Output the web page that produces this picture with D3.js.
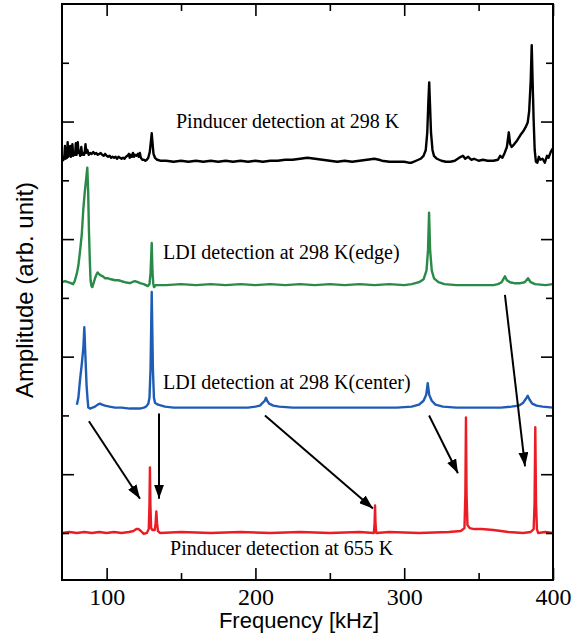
<!DOCTYPE html>
<html><head><meta charset="utf-8">
<script src="https://cdn.jsdelivr.net/npm/d3@7"></script>
<style>body{margin:0;background:#fff}</style>
</head><body><svg id="c" width="582" height="639"></svg>
<script>
const freqTicksMajor=[100,200,300,400];
const freqTicksMinor=[150,250,350];
const ampTicksLong=[60,180,300,420];
const ampTicksShort=[0,120,240,360,480];

// [frequency kHz, relative amplitude]
const pinducer298=[[70,0],[70.5,3],[71,2],[71.6,6],[72,16],[72.4,3],[73,5],[73.4,4],[73.8,20],[74.2,5],[74.7,7],[75.5,16],[76,5],[76.5,8],[77,18],[77.5,6],[78.2,9],[78.8,7],[79.3,19],[79.8,7],[80.2,10],[80.6,20],[81.1,9],[81.6,11],[82.2,6],[83,15],[83.5,7],[84.1,9],[84.8,7],[85.3,10],[85.8,18],[86.3,9],[87,12],[88,7],[89,9],[90,8],[91,10],[92,8],[93,9],[94,7],[95,8],[96,9],[97,7],[98,6],[99,8],[100,6],[101,5],[102,6],[103,4],[104,5],[105,4],[106,5],[107,3],[108,5],[109,4],[110,3],[111,4],[112,3],[113,5],[114,6],[115,8],[115.5,4],[116.3,7],[117,5],[117.7,9],[118.4,5],[119,7],[120,6],[121,8],[121.6,5],[122.3,9],[123,4],[124,2],[125,2],[126,1],[127,2],[128,4],[129,10],[129.7,20],[130.3,29],[130.9,18],[131.5,8],[132.5,4],[134,2],[136,1],[140,1],[145,0],[150,1],[155,0],[160,1],[165,0],[170,1],[175,0],[180,1],[185,0],[190,1],[195,0],[200,1],[205,0],[210,1],[215,1],[220,2],[225,2],[230,3],[235,4],[240,3],[245,2],[250,1],[255,0],[260,1],[265,0],[270,1],[275,2],[280,3],[283,2],[285,1],[290,0],[295,0],[300,0],[303,-1],[305,-1],[308,1],[311,3],[313,6],[314.5,12],[315.5,30],[316.2,60],[316.8,81],[317.3,60],[318,30],[319,12],[320,6],[322,3],[325,1],[328,0],[331,0],[334,1],[336,3],[338,5],[339.5,6],[341,3],[343,5],[345,2],[347,3],[350,1],[353,2],[356,1],[360,1],[363,2],[364.5,6],[366,4],[367.5,9],[369,15],[370.3,30],[371.2,18],[372.2,15],[374,18],[376,22],[378,27],[380,31],[381.5,35],[383,40],[384,52],[385,82],[385.7,119],[386.3,82],[387,42],[387.7,12],[388.5,0],[389.5,-1],[390.5,5],[391.5,2],[393,3],[394.5,-1],[396,6],[397,4],[398.5,10],[400,14]];

const ldiEdge=[[70,3],[72,4],[74,3],[76,2],[77.4,1],[78.5,4],[80,12],[81,20],[82,33],[83.3,52],[84.3,77],[85.3,95],[86.2,108],[87,120],[87.6,95],[88.1,56],[88.7,25],[89.2,5],[89.8,-1],[90.4,-2],[91.2,2],[92.2,7],[93.2,11],[94,13],[95,11],[96,10],[97.5,9],[99,7],[101,7],[103,6],[105.6,5],[108,5],[110,4],[112.3,3],[115.7,2],[117,3],[119,4],[121,3],[122.4,2],[125,1],[127.6,-1],[128.8,1],[129.5,12],[130.3,43],[130.8,14],[131.3,2],[131.8,-2],[133,0],[140,0],[150,1],[160,0],[170,1],[180,0],[190,1],[200,0],[210,1],[220,0],[230,1],[240,0],[250,1],[260,0],[270,1],[280,0],[290,1],[300,0],[305,1],[310,3],[313,6],[315,15],[316,36],[316.7,74],[317.4,36],[318.5,15],[320,7],[323,3],[327,1],[335,0],[345,0],[355,0],[360,0],[363,1],[365.5,3],[367.7,9],[369,5],[371,3],[374,2],[378,2],[381,3],[383.2,7],[385,3],[388,1],[395,0],[400,1]];

const ldiCenter=[[80,3],[81,10],[82.1,28],[83.4,46],[84.4,62],[85,82],[85.7,54],[86.5,23],[87.2,8],[87.7,0],[88.8,-1],[90.5,0],[92.2,1],[94,3],[95.5,4],[97,3],[98.9,2],[102,1],[105.6,0],[110,0],[115.7,-1],[122.4,-1],[125,0],[126.5,1],[128,4],[128.8,10],[129.5,39],[130.3,118],[131.1,39],[131.8,10],[132.5,5],[134.5,3],[139.2,1],[145,0],[160,0],[180,0],[195,0],[200,1],[203,2],[205,5],[206.3,7],[207.1,10],[207.9,7],[209.2,4],[212,2],[216,1],[225,0],[250,0],[275,0],[295,0],[305,1],[310,3],[313,7],[314.8,13],[315.8,25],[316.8,13],[318.5,7],[321,3],[326,1],[335,0],[350,0],[365,0],[372,1],[377,2],[380,5],[381.8,9],[383,12],[384.3,8],[386,4],[389,2],[393,1],[400,0]];

const pinducer655=[[70,0],[75,1],[80,0],[85,1],[90,0],[95,1],[100,0],[105,1],[110,0],[115,1],[118,2],[120,4],[121.5,4],[123,2],[125,-1],[127,0],[128.3,4],[128.8,30],[129.1,67],[129.4,30],[129.9,5],[130.8,3],[132.3,3],[132.9,10],[133.4,22],[133.9,10],[134.5,2],[136,0],[150,1],[170,0],[190,1],[210,0],[230,1],[250,0],[270,1],[279.6,0],[280.1,10],[280.4,28],[280.7,10],[281.2,0],[290,1],[310,0],[330,1],[338,2],[340.5,5],[341.1,40],[341.5,118],[341.9,40],[342.5,8],[344,5],[347,4],[352,4],[360,3],[370,1],[380,0],[385,1],[387,4],[387.6,30],[388.1,108],[388.6,30],[389.2,4],[390,0],[395,1],[400,0]];

const seriesNames=["Pinducer detection at 298 K","LDI detection at 298 K(edge)","LDI detection at 298 K(center)","Pinducer detection at 655 K"];
const seriesData=[pinducer298,ldiEdge,ldiCenter,pinducer655];
const seriesOffsets=[379,253,128,0];
const seriesColors=["#000000","#2a8a48","#1f5cb4","#ec1c24"];
const labelAnchors=[[146.6,413],[137.9,280],[137.9,147],[142.6,-22.5]];
// arrows: [fromFreq, fromAmp, toFreq, toAmp]
const arrows=[[88.1,114,122.4,35],[135.2,122,135.2,35],[206.4,120,279,25],[316.7,120,336.1,61],[367.7,243,381.2,68]];

const svg=d3.select('#c');
const L=62,R=553,T=4,B=580;
const x=d3.scaleLinear().domain([70,400]).range([L,R]);
const y=d3.scaleLinear().domain([-48,540]).range([B,T]);

svg.append('defs').append('clipPath').attr('id','clip')
  .append('rect').attr('x',L).attr('y',T).attr('width',R-L).attr('height',B-T);
const mk=svg.select('defs').append('marker').attr('id','arr')
  .attr('viewBox','0 0 14 10').attr('refX',14).attr('refY',5)
  .attr('markerWidth',14).attr('markerHeight',10).attr('markerUnits','userSpaceOnUse')
  .attr('orient','auto');
mk.append('path').attr('d','M0,0 L14,5 L0,10 Z').attr('fill','#000');

const line=d3.line().x(d=>x(d[0])).y(d=>y(d[1]));
const g=svg.append('g').attr('clip-path','url(#clip)');
seriesData.forEach((s,i)=>{
  g.append('path').datum(s.map(p=>[p[0],p[1]+seriesOffsets[i]]))
   .attr('d',line).attr('fill','none').attr('stroke',seriesColors[i])
   .attr('stroke-width',2.4).attr('stroke-linejoin','round');
});

// labels
seriesNames.forEach((n,i)=>{
  svg.append('text').attr('x',x(labelAnchors[i][0])).attr('y',y(labelAnchors[i][1]))
    .attr('font-family','Liberation Serif, Times New Roman, serif').attr('font-size',20)
    .attr('fill','#000').text(n);
});

// arrows
arrows.forEach(a=>{
  svg.append('line').attr('x1',x(a[0])).attr('y1',y(a[1])).attr('x2',x(a[2])).attr('y2',y(a[3]))
    .attr('stroke','#000').attr('stroke-width',2).attr('marker-end','url(#arr)');
});

function styleAxis(sel){
  sel.select('.domain').remove();
  sel.selectAll('.tick line').attr('stroke','#000').attr('stroke-width',1.6);
  sel.selectAll('.tick text').attr('font-family','Liberation Serif, Times New Roman, serif')
    .attr('font-size',24).attr('fill','#000');
}
svg.append('g').attr('transform',`translate(0,${B})`)
  .call(d3.axisBottom(x).tickValues(freqTicksMajor).tickSize(-12).tickPadding(8).tickFormat(d3.format('d'))).call(styleAxis);
svg.append('g').attr('transform',`translate(0,${B})`)
  .call(d3.axisBottom(x).tickValues(freqTicksMinor).tickSize(-7).tickFormat('')).call(styleAxis);
svg.append('g').attr('transform',`translate(0,${T})`)
  .call(d3.axisTop(x).tickValues(freqTicksMajor).tickSize(-12).tickFormat('')).call(styleAxis);
svg.append('g').attr('transform',`translate(0,${T})`)
  .call(d3.axisTop(x).tickValues(freqTicksMinor).tickSize(-7).tickFormat('')).call(styleAxis);
svg.append('g').attr('transform',`translate(${L},0)`)
  .call(d3.axisLeft(y).tickValues(ampTicksLong).tickSize(-12).tickFormat('')).call(styleAxis);
svg.append('g').attr('transform',`translate(${L},0)`)
  .call(d3.axisLeft(y).tickValues(ampTicksShort).tickSize(-7).tickFormat('')).call(styleAxis);
svg.append('g').attr('transform',`translate(${R},0)`)
  .call(d3.axisRight(y).tickValues(ampTicksLong).tickSize(-12).tickFormat('')).call(styleAxis);
svg.append('g').attr('transform',`translate(${R},0)`)
  .call(d3.axisRight(y).tickValues(ampTicksShort).tickSize(-7).tickFormat('')).call(styleAxis);

svg.append('rect').attr('x',L).attr('y',T).attr('width',R-L).attr('height',B-T)
  .attr('fill','none').attr('stroke','#000').attr('stroke-width',2);

svg.append('text').attr('x',299).attr('y',628).attr('text-anchor','middle')
  .attr('font-family','Liberation Sans, Arial, sans-serif').attr('font-size',22).attr('fill','#000')
  .text('Frequency [kHz]');
svg.append('text').attr('transform','translate(33,290) rotate(-90)').attr('text-anchor','middle')
  .attr('font-family','Liberation Sans, Arial, sans-serif').attr('font-size',24).attr('fill','#000')
  .text('Amplitude (arb. unit)');
</script></body></html>
